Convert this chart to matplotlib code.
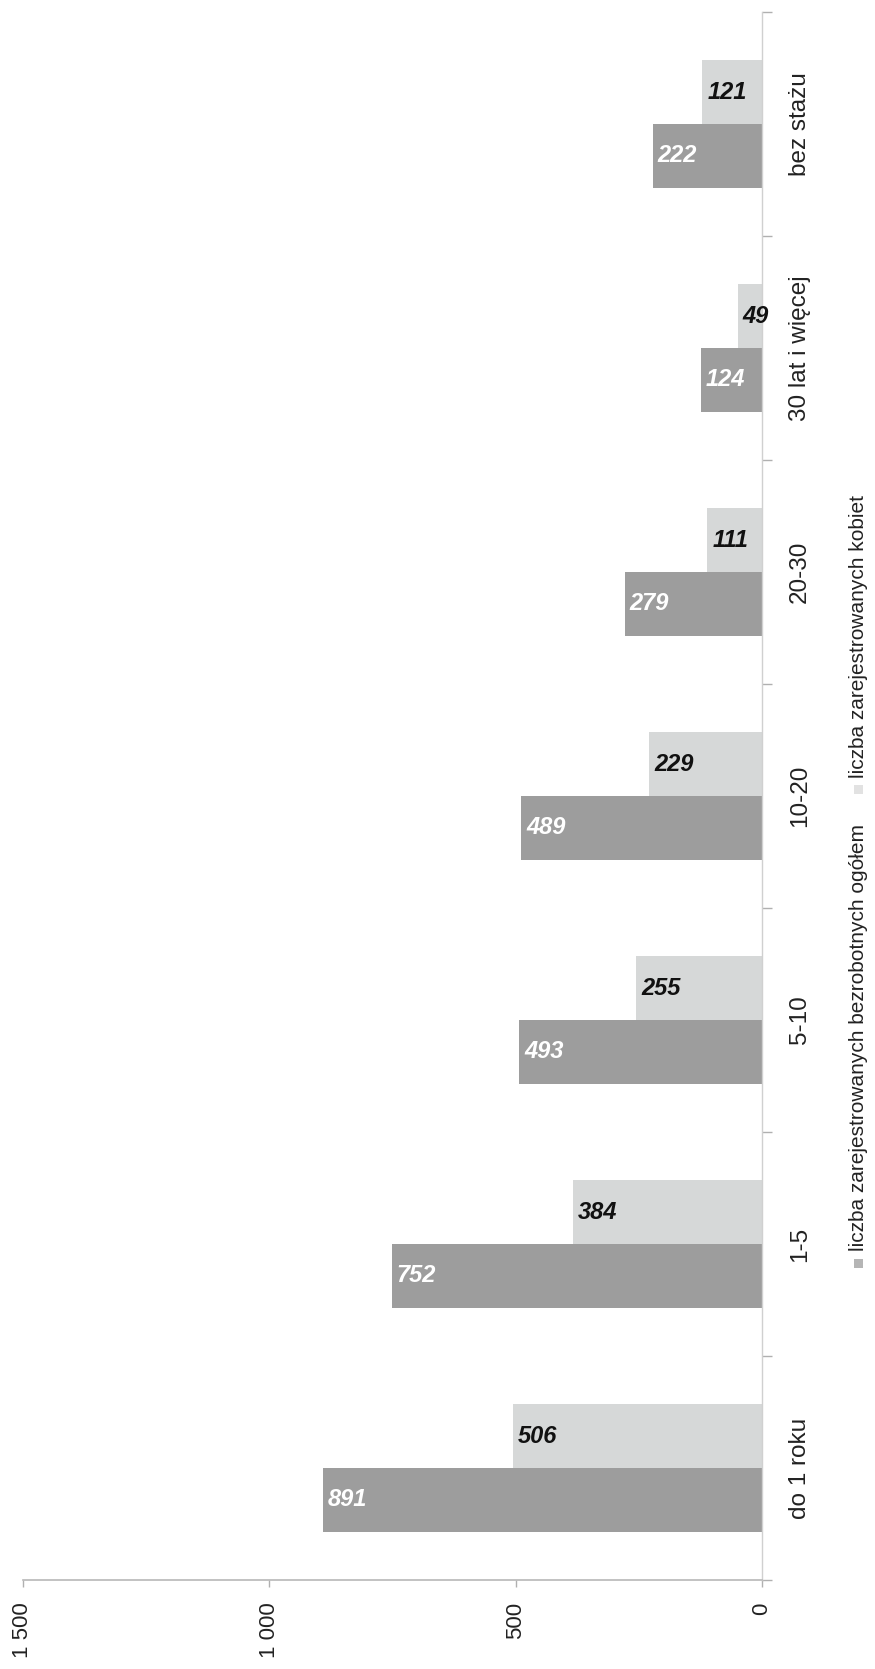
import numpy as np
import matplotlib
matplotlib.use("Agg")
import matplotlib.pyplot as plt
from matplotlib.patches import Rectangle

# ---- data ----
categories = ["do 1 roku", "1-5", "5-10", "10-20", "20-30", "30 lat i więcej", "bez stażu"]
ogolem = [891, 752, 493, 489, 279, 124, 222]
kobiety = [506, 384, 255, 229, 111, 49, 121]
value_ticks = [0, 500, 1000, 1500]
value_tick_labels = ["0", "500", "1 000", "1 500"]
legend_labels = ["liczba zarejestrowanych bezrobotnych ogółem",
                 "liczba zarejestrowanych kobiet"]

plt.rcParams['font.family'] = ['Liberation Sans', 'DejaVu Sans']

W, H = 875, 1669
fig = plt.figure(figsize=(W / 100, H / 100), dpi=100)
fig.patch.set_facecolor("white")

left_px, right_px, top_px, bottom_px = 23, 762, 12, 1580
ax = fig.add_axes([left_px / W, (H - bottom_px) / H,
                   (right_px - left_px) / W, (bottom_px - top_px) / H])

dark = "#9d9d9d"
light = "#d6d8d8"
bw = 0.285
y = np.arange(len(categories))

ax.barh(y - bw / 2, ogolem, height=bw, color=dark, edgecolor="none")
ax.barh(y + bw / 2, kobiety, height=bw, color=light, edgecolor="none")

ax.set_xlim(1500, 0)
ax.set_ylim(-0.5, len(categories) - 0.5)

# data labels
for yi, v in zip(y, ogolem):
    ax.annotate(str(v), xy=(v, yi - bw / 2), xytext=(5, 0), textcoords="offset pixels",
                ha="left", va="center", fontsize=17, fontweight="bold",
                fontstyle="italic", color="white")
for yi, v in zip(y, kobiety):
    ax.annotate(str(v), xy=(v, yi + bw / 2), xytext=(5, 0), textcoords="offset pixels",
                ha="left", va="center", fontsize=17, fontweight="bold",
                fontstyle="italic", color="#111111")

# spines
for s in ["top", "left"]:
    ax.spines[s].set_visible(False)
ax.spines["right"].set_color("#d0d0d0")
ax.spines["right"].set_linewidth(1.0)
ax.spines["bottom"].set_color("#b8b8b8")
ax.spines["bottom"].set_linewidth(1.2)

# category axis (right)
ax.set_yticks(np.arange(-0.5, len(categories), 1.0))
ax.set_yticklabels([])
ax.set_yticks(y, minor=True)
ax.set_yticklabels(categories, minor=True)
ax.tick_params(axis="y", which="both", left=False, right=True,
               labelleft=False, labelright=True)
ax.tick_params(axis="y", which="major", length=7, width=1, color="#b0b0b0", direction="out")
ax.tick_params(axis="y", which="minor", length=0, pad=19.5, labelsize=17.5,
               labelcolor="#222222")
for lab in ax.get_yminorticklabels():
    lab.set_rotation(90)
    lab.set_va("center")
    lab.set_ha("left")

# value axis (bottom)
ax.set_xticks(value_ticks)
ax.set_xticklabels(value_tick_labels)
ax.tick_params(axis="x", which="major", length=5, width=1, color="#b0b0b0",
               direction="out", pad=11, labelsize=16, labelcolor="#222222")
for lab in ax.get_xticklabels():
    lab.set_rotation(90)
    lab.set_va("top")
    lab.set_ha("center")

# legend (rotated, drawn manually)
legend_items = [(legend_labels[0], "#b5b5b5", 1263), (legend_labels[1], "#e2e2e2", 790)]
for text, col, ypx in legend_items:
    ms = 9
    fig.add_artist(Rectangle(((858 - ms / 2) / W, (H - ypx - ms / 2) / H), ms / W, ms / H,
                             transform=fig.transFigure, facecolor=col, edgecolor="none"))
    fig.text(859 / W, (H - ypx + 12) / H, text, rotation=90, ha="center", va="bottom",
             fontsize=15, color="#222222")

fig.savefig("out.png", dpi=100, facecolor="white")
